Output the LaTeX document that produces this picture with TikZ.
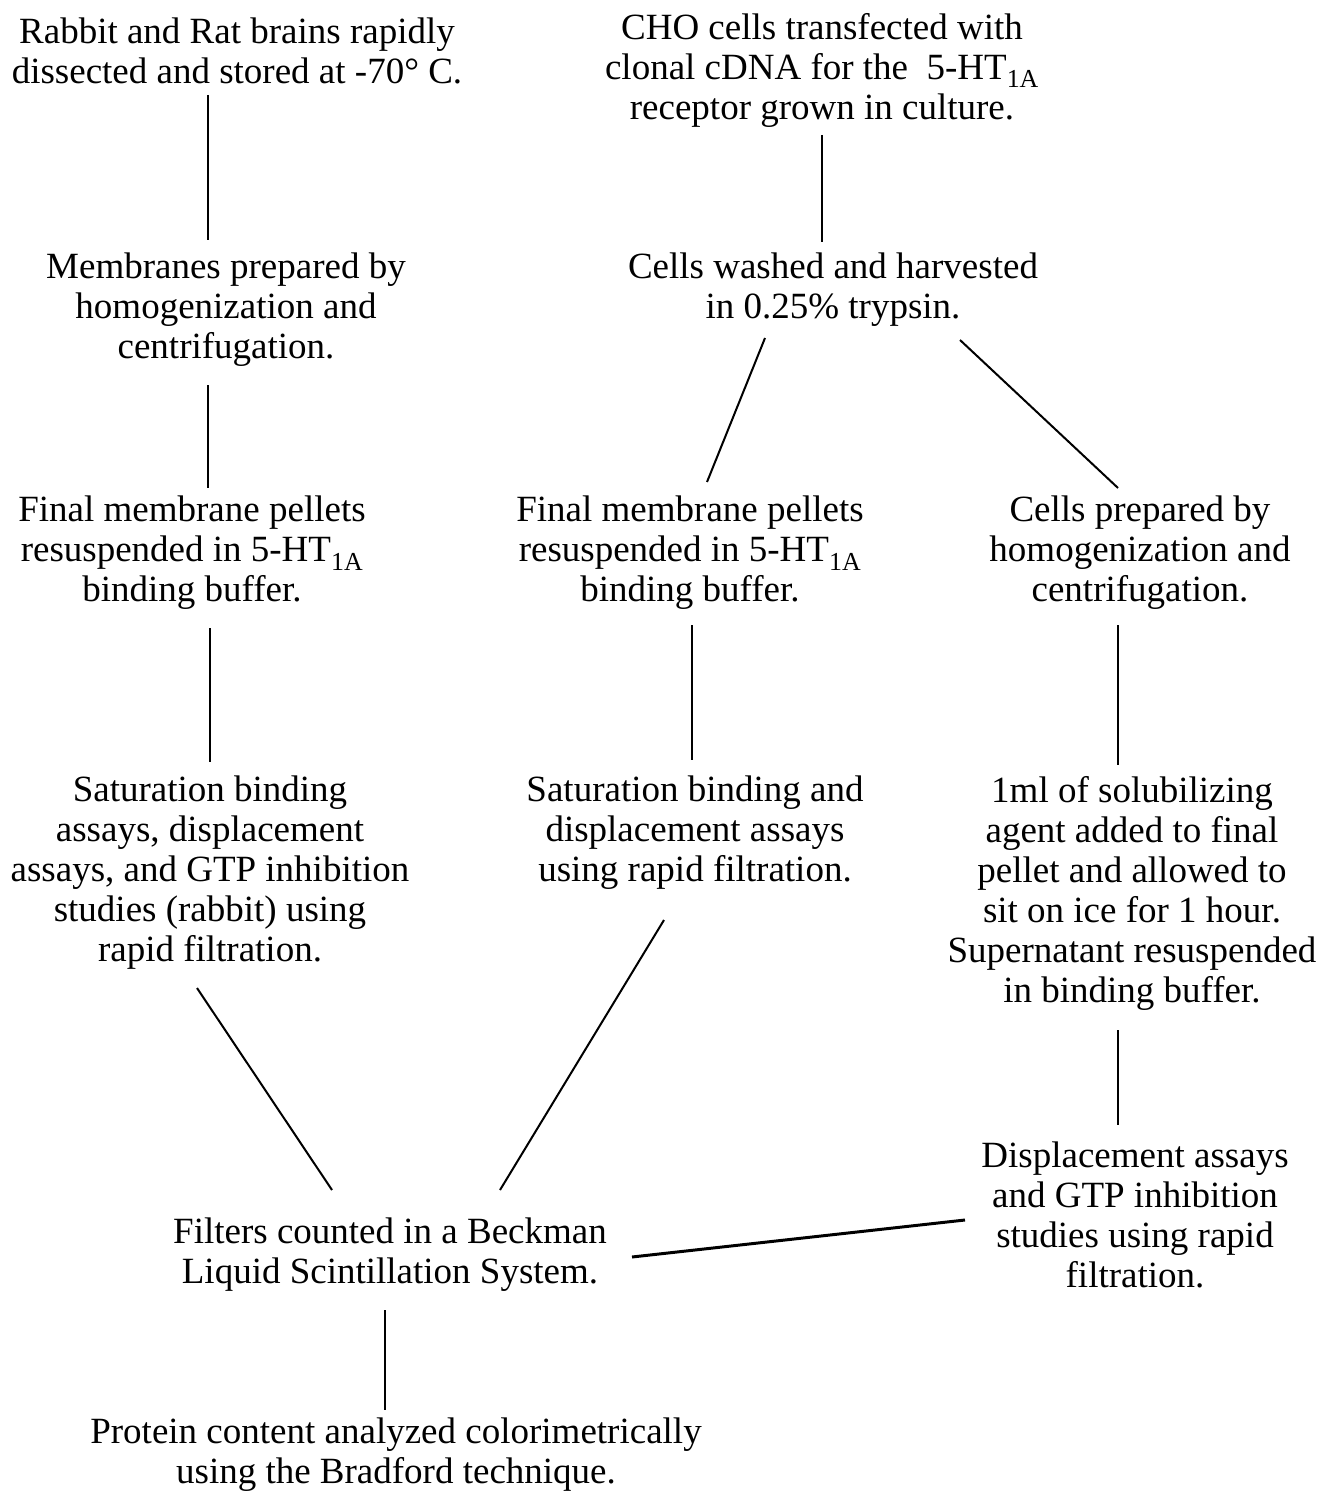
\documentclass[tikz,border=0pt]{standalone}
\usepackage{fontspec}
\setmainfont{Liberation Serif}
\usetikzlibrary{calc}
\begin{document}
\begin{tikzpicture}[x=1pt,y=-1pt,
  txt/.style={align=center,inner sep=0pt,font=\fontsize{37}{40}\selectfont},
  conn/.style={line width=2pt}]
\useasboundingbox[fill=white] (0,0) rectangle (1323,1495);
\node[txt] (A) at (237,51) {Rabbit and Rat brains rapidly\\dissected and stored at -70° C.};
\node[txt] (B) at (822,70) {CHO cells transfected with\\clonal cDNA for the\ \ 5-HT\textsubscript{1A}\\receptor grown in culture.};
\node[txt] (C) at (226,310) {Membranes prepared by\\homogenization and\\centrifugation.};
\node[txt] (D) at (833,290) {Cells washed and harvested\\in 0.25\% trypsin.};
\node[txt] (E) at (192,553) {Final membrane pellets\\resuspended in 5-HT\textsubscript{1A}\\binding buffer.};
\node[txt] (F) at (690,553) {Final membrane pellets\\resuspended in 5-HT\textsubscript{1A}\\binding buffer.};
\node[txt] (G) at (1140,553) {Cells prepared by\\homogenization and\\centrifugation.};
\node[txt] (H) at (210,873) {Saturation binding\\assays, displacement\\assays, and GTP inhibition\\studies (rabbit) using\\rapid filtration.};
\node[txt] (I) at (695,833) {Saturation binding and\\displacement assays\\using rapid filtration.};
\node[txt] (J) at (1132,893) {1ml of solubilizing\\agent added to final\\pellet and allowed to\\sit on ice for 1 hour.\\Supernatant resuspended\\in binding buffer.};
\node[txt] (K) at (390,1255) {Filters counted in a Beckman\\Liquid Scintillation System.};
\node[txt] (L) at (1135,1215) {Displacement assays\\and GTP inhibition\\studies using rapid\\filtration.};
\node[txt] (M) at (396,1455) {Protein content analyzed colorimetrically\\using the Bradford technique.};
\draw[conn] ($(A.center)+(-29,44)$) -- ($(C.center)+(-18,-70)$);
\draw[conn] ($(B.center)+(0,65)$) -- ($(D.center)+(-11,-48)$);
\draw[conn] ($(C.center)+(-18,75)$) -- ($(E.center)+(16,-65)$);
\draw[conn] ($(D.center)+(-68,48)$) -- ($(F.center)+(17,-71)$);
\draw[conn] ($(D.center)+(127,50)$) -- ($(G.center)+(-22,-65)$);
\draw[conn] ($(E.center)+(18,75)$) -- ($(H.center)+(0,-111)$);
\draw[conn] ($(F.center)+(2,72)$) -- ($(I.center)+(-3,-73)$);
\draw[conn] ($(G.center)+(-22,72)$) -- ($(J.center)+(-14,-128)$);
\draw[conn] ($(H.center)+(-13,115)$) -- ($(K.center)+(-58,-65)$);
\draw[conn] ($(I.center)+(-31,87)$) -- ($(K.center)+(110,-65)$);
\draw[conn] ($(J.center)+(-14,137)$) -- ($(L.center)+(-17,-90)$);
\draw[line width=3pt] ($(K.center)+(242,2)$) -- ($(L.center)+(-170,5)$);
\draw[conn] ($(K.center)+(-5,55)$) -- ($(M.center)+(-11,-45)$);
\end{tikzpicture}
\end{document}
